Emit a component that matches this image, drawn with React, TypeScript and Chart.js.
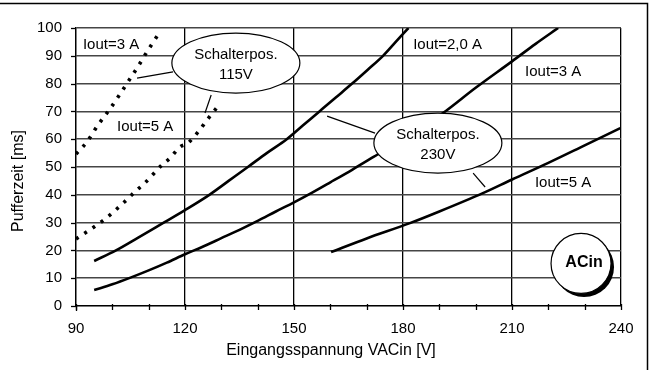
import { useEffect, useRef } from "react";
import { Chart, registerables } from "chart.js";

Chart.register(...registerables);

// Axis ranges / ticks
const xMajorTicks = [90, 120, 150, 180, 210, 240];
const yTicks = [0, 10, 20, 30, 40, 50, 60, 70, 80, 90, 100];
const xTitle = "Eingangsspannung VACin [V]";
const yTitle = "Pufferzeit [ms]";

// Schalterpos. 115V, Iout = 3 A (dotted)
const x115v3A = [90, 93, 96, 99.4, 102, 104.3, 107, 109.8, 112.3];
const y115v3A = [54.7, 59, 65, 71, 76, 80.6, 86, 92, 97];

// Schalterpos. 115V, Iout = 5 A (dotted)
const x115v5A = [90, 93.7, 98.3, 103.3, 106, 109.3, 113.4, 116.1, 118.6, 120.8, 123.6, 126.3, 129.1];
const y115v5A = [24.1, 27.3, 31.6, 37.4, 40.8, 44.7, 50.4, 53.5, 57.2, 58.6, 62.6, 67.3, 71.9];

// Schalterpos. 230V, Iout = 2,0 A
const x230v2A = [95, 101, 107, 113.9, 120, 126.7, 132, 137.3, 142.5, 148, 152.5, 157, 161.5, 166, 170.3, 174.5, 178, 181.5];
const y230v2A = [16.2, 20, 24.5, 29.8, 34.5, 40, 45, 50, 55, 60, 65, 70, 75, 80, 85, 90, 95, 100];

// Schalterpos. 230V, Iout = 3 A
const x230v3A = [95, 100, 105, 110, 115, 120, 125, 130, 135, 140, 145, 150, 155, 160, 166, 172, 180, 186, 191, 200, 210, 216.5, 222.7];
const y230v3A = [5.75, 7.8, 10.2, 12.8, 15.6, 18.6, 21.4, 24.4, 27.4, 30.6, 34, 37.3, 40.8, 44.5, 49, 53.7, 60, 65, 69.4, 78.5, 88, 94.3, 100];

// Schalterpos. 230V, Iout = 5 A
const x230v5A = [160.2, 170, 181.9, 190, 202, 210, 220, 230, 239.8];
const y230v5A = [19.4, 24.3, 29.8, 34, 40.6, 45.5, 51.5, 57.8, 64];

const toPoints = (xs: number[], ys: number[]) => xs.map((x, i) => ({ x, y: ys[i] }));

export default function App() {
  const ref = useRef<HTMLCanvasElement | null>(null);

  useEffect(() => {
    const canvas = ref.current;
    if (!canvas) return;
    const FONT = "'Liberation Sans', Arial, sans-serif";

    const decor = {
      id: "decor",
      afterDraw(chart: any) {
        const ctx = chart.ctx as CanvasRenderingContext2D;
        const xs = chart.scales.x;
        const ys = chart.scales.y;
        const area = chart.chartArea;
        const px = (v: number) => xs.getPixelForValue(v);
        const py = (v: number) => ys.getPixelForValue(v);
        ctx.save();

        // tick marks
        ctx.strokeStyle = "#000";
        ctx.lineWidth = 1.3;
        for (let v = 90; v <= 240; v += 10) {
          const x = Math.round(px(v)) + 0.5;
          ctx.beginPath();
          ctx.moveTo(x, area.bottom - 2);
          ctx.lineTo(x, area.bottom + 4);
          ctx.stroke();
        }
        for (const v of yTicks) {
          const y = Math.round(py(v)) + 0.5;
          ctx.beginPath();
          ctx.moveTo(area.left - 5, y);
          ctx.lineTo(area.left, y);
          ctx.stroke();
        }
        ctx.beginPath();
        ctx.moveTo(Math.round(px(90)) + 0.5, area.bottom);
        ctx.lineTo(Math.round(px(90)) + 0.5, area.bottom + 5);
        ctx.stroke();

        // curve labels
        ctx.fillStyle = "#000";
        ctx.font = `15px ${FONT}`;
        ctx.textBaseline = "middle";
        ctx.textAlign = "left";
        const label = (t: string, x: number, y: number) => ctx.fillText(t, px(x), py(y));
        label("Iout=3 A", 91.9, 93.9);
        label("Iout=5 A", 101.3, 64.4);
        label("Iout=2,0 A", 182.8, 93.9);
        label("Iout=3 A", 213.6, 84.2);
        label("Iout=5 A", 216.3, 44.2);

        // callout lines
        ctx.lineWidth = 1.2;
        const seg = (x1: number, y1: number, x2: number, y2: number) => {
          ctx.beginPath();
          ctx.moveTo(px(x1), py(y1));
          ctx.lineTo(px(x2), py(y2));
          ctx.stroke();
        };
        seg(116.7, 84.2, 106.8, 82);
        seg(127.2, 75.9, 125.5, 69.4);
        seg(172.3, 62.2, 159.1, 68.3);
        seg(199.3, 47.8, 202.6, 42.8);

        // ellipses
        const bubble = (cx: number, cy: number, l1: string, l2: string) => {
          const x = px(cx);
          const y = py(cy);
          ctx.beginPath();
          ctx.ellipse(x, y, 64, 30, 0, 0, Math.PI * 2);
          ctx.fillStyle = "#fff";
          ctx.fill();
          ctx.lineWidth = 1.2;
          ctx.strokeStyle = "#000";
          ctx.stroke();
          ctx.fillStyle = "#000";
          ctx.textAlign = "center";
          ctx.font = `15px ${FONT}`;
          ctx.fillText(l1, x, y - 8);
          ctx.fillText(l2, x, y + 12);
        };
        bubble(134, 87.4, "Schalterpos.", "115V");
        bubble(189.6, 58.6, "Schalterpos.", "230V");

        // ACin badge
        const bx = px(229.0);
        const by = py(15.3);
        ctx.beginPath();
        ctx.arc(bx + 3, by + 3.5, 30, 0, Math.PI * 2);
        ctx.fillStyle = "#000";
        ctx.fill();
        ctx.beginPath();
        ctx.arc(bx, by, 30, 0, Math.PI * 2);
        ctx.fillStyle = "#fff";
        ctx.fill();
        ctx.lineWidth = 1.2;
        ctx.stroke();
        ctx.fillStyle = "#000";
        ctx.font = `bold 16px ${FONT}`;
        ctx.textAlign = "center";
        ctx.fillText("ACin", bx + 3, by - 1);

        // axis titles
        ctx.font = `16px ${FONT}`;
        ctx.textAlign = "center";
        ctx.fillText(xTitle, 331, 351);
        ctx.save();
        ctx.translate(19, 181);
        ctx.rotate(-Math.PI / 2);
        ctx.fillText(yTitle, 0, 0);
        ctx.restore();

        // outer frame
        ctx.strokeStyle = "#000";
        ctx.lineWidth = 1.5;
        ctx.beginPath();
        ctx.moveTo(0, 3.5);
        ctx.lineTo(647.5, 3.5);
        ctx.lineTo(647.5, 370);
        ctx.stroke();

        ctx.restore();
      },
    };

    const solid = (xs: number[], ys: number[]) => ({
      data: toPoints(xs, ys),
      showLine: true,
      borderColor: "#000",
      borderWidth: 2.6,
      pointRadius: 0,
      cubicInterpolationMode: "monotone",
      fill: false,
    });
    const dotted = (xs: number[], ys: number[]) => ({
      ...solid(xs, ys),
      borderWidth: 3.6,
      borderDash: [3, 7],
      borderCapStyle: "butt",
    });

    const chart = new Chart(canvas, {
      type: "scatter",
      data: {
        datasets: [
          dotted(x115v3A, y115v3A),
          dotted(x115v5A, y115v5A),
          solid(x230v2A, y230v2A),
          solid(x230v3A, y230v3A),
          solid(x230v5A, y230v5A),
        ] as any,
      },
      options: {
        responsive: false,
        animation: false,
        events: [],
        layout: { padding: { left: 0, top: 28, right: 32, bottom: 0 } },
        plugins: { legend: { display: false }, tooltip: { enabled: false } },
        scales: {
          x: {
            type: "linear",
            min: 90,
            max: 240,
            afterFit: (s: any) => {
              s.height = 64;
            },
            afterBuildTicks: (s: any) => {
              const t = [];
              for (let v = 90; v <= 240; v += 10) t.push({ value: v });
              s.ticks = t;
            },
            ticks: {
              autoSkip: false,
              maxRotation: 0,
              padding: 14,
              color: "#000",
              font: { family: FONT, size: 15 },
              callback: (v: any) => (xMajorTicks.includes(Number(v)) ? String(v) : ""),
            },
            grid: {
              drawTicks: false,
              color: (c: any) => (xMajorTicks.includes(c.tick?.value) ? "#000" : "rgba(0,0,0,0)"),
              lineWidth: 1.3,
            },
            border: { color: "#000", width: 1.3 },
          },
          y: {
            type: "linear",
            min: 0,
            max: 100,
            afterFit: (s: any) => {
              s.width = 76;
            },
            ticks: {
              stepSize: 10,
              padding: 14,
              color: "#000",
              font: { family: FONT, size: 15 },
            },
            grid: { drawTicks: false, color: "#454545", lineWidth: 1.6 },
            border: { color: "#000", width: 1.3 },
          },
        },
      },
      plugins: [decor],
    } as any);

    return () => chart.destroy();
  }, []);

  return (
    <div style={{ position: "absolute", left: 0, top: 0, width: 653, height: 370, background: "#fff" }}>
      <canvas ref={ref} width={653} height={370} style={{ display: "block" }} />
    </div>
  );
}
